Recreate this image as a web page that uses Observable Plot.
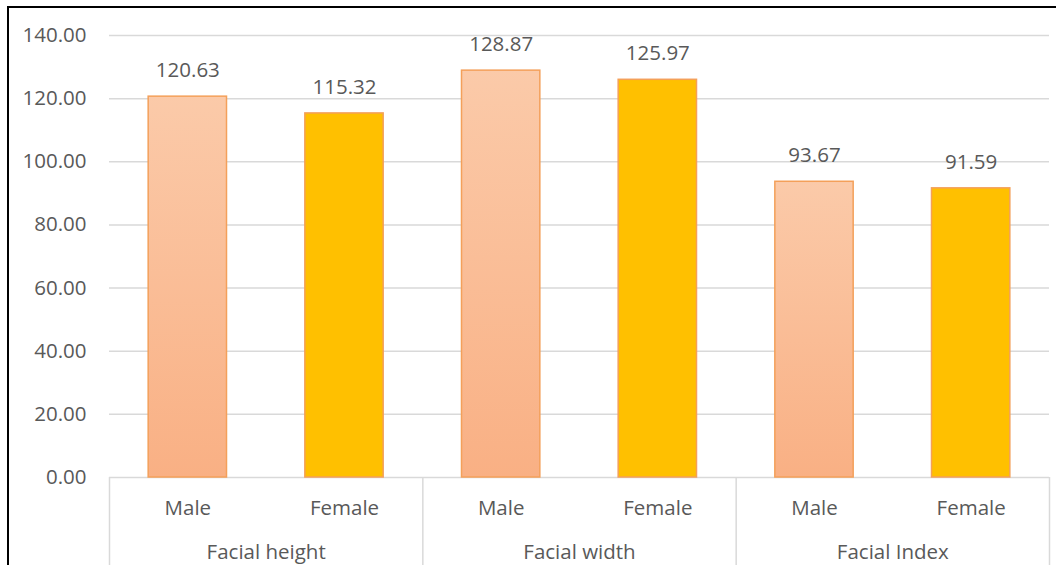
<!DOCTYPE html>
<html>
<head>
<meta charset="utf-8">
<script src="https://cdn.jsdelivr.net/npm/d3@7"></script>
<script src="https://cdn.jsdelivr.net/npm/@observablehq/plot@0.6"></script>
<style>
  html, body { margin: 0; padding: 0; background: #fff; overflow: hidden; }
  #wrap { position: relative; width: 1056px; height: 565px; }
  #border { position: absolute; left: 7px; top: 6px; width: 1200px; height: 700px;
            border-left: 2px solid #000; border-top: 2px solid #000; pointer-events: none; }
</style>
</head>
<body>
<div id="wrap"><div id="border"></div></div>
<script>
const groups = ["Facial height", "Facial width", "Facial Index"];
const sexes = ["Male", "Female"];
const maleValues = [120.63, 128.87, 93.67];
const femaleValues = [115.32, 125.97, 91.59];
const yTicks = [0, 20, 40, 60, 80, 100, 120, 140];

const rows = [];
groups.forEach((g, gi) => {
  sexes.forEach((s, si) => {
    const v = si === 0 ? maleValues[gi] : femaleValues[gi];
    rows.push({group: g, sex: s, value: v, pos: gi * 2 + si});
  });
});
const nSlots = groups.length * sexes.length;
const boundaries = d3.range(0, nSlots + 1, sexes.length);

const font = "'Open Sans', Lato, sans-serif";
const txt = "#595959";
const fs = 20.5;

const gradDefs = () => {
  const svgNS = "http://www.w3.org/2000/svg";
  const defs = document.createElementNS(svgNS, "defs");
  defs.innerHTML = `<linearGradient id="maleGrad" x1="0" y1="0" x2="0" y2="1">
      <stop offset="0" stop-color="#FBCAA9"/>
      <stop offset="1" stop-color="#F9B084"/>
    </linearGradient>`;
  return defs;
};

const chart = Plot.plot({
  width: 1056,
  height: 565,
  marginLeft: 109,
  marginRight: 7,
  marginTop: 35,
  marginBottom: 88,
  style: {fontFamily: font, fontSize: fs + "px", color: txt, background: "transparent", overflow: "visible"},
  x: {type: "linear", domain: [0, nSlots], axis: null},
  y: {domain: [0, 140], axis: null, label: null},
  marks: [
    gradDefs,
    Plot.gridY(yTicks, {stroke: "#D9D9D9", strokeOpacity: 1, strokeWidth: 1.5}),
    Plot.axisY(yTicks, {tickSize: 0, tickPadding: 23, label: null, tickFormat: d => d.toFixed(2), fontSize: fs, fill: txt}),
    Plot.rectY(rows, {
      x1: d => d.pos + 0.25, x2: d => d.pos + 0.75, y: "value",
      fill: d => d.sex === "Male" ? "url(#maleGrad)" : "#FFC000",
      stroke: "#F4A05A", strokeWidth: 1.5
    }),
    Plot.text(rows, {
      x: d => d.pos + 0.5, y: "value", text: d => d.value.toFixed(2),
      dy: -26, fontSize: fs, fill: txt
    }),
    Plot.axisX(boundaries, {anchor: "bottom", tickSize: 90, label: null, tickFormat: () => "", stroke: "#D9D9D9", strokeWidth: 1.5}),
    Plot.axisX(rows.map(d => d.pos + 0.5), {anchor: "bottom", tickSize: 0, tickPadding: 23, label: null,
      tickFormat: (d, i) => rows[i].sex, fontSize: fs, fill: txt}),
    Plot.axisX(groups.map((g, i) => i * sexes.length + sexes.length / 2), {anchor: "bottom", tickSize: 0, tickPadding: 67, label: null,
      tickFormat: (d, i) => groups[i], fontSize: fs, fill: txt})
  ]
});
document.getElementById("wrap").prepend(chart);
</script>
</body>
</html>
